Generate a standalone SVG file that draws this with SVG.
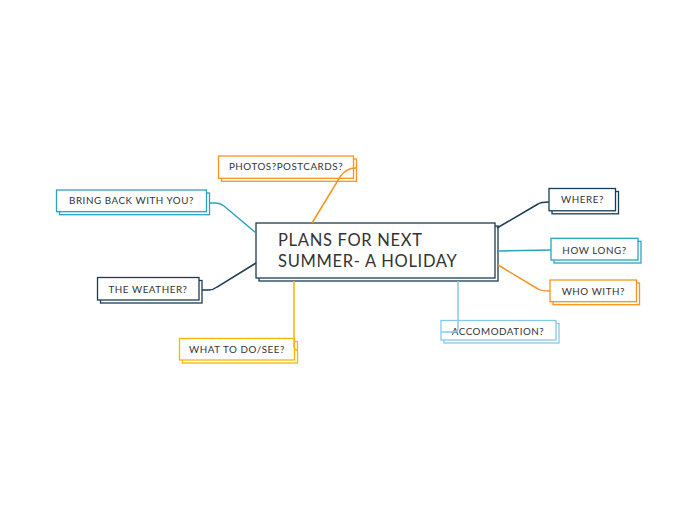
<svg xmlns="http://www.w3.org/2000/svg" width="697" height="520" viewBox="0 0 697 520">
<style>
.bg{fill:#fff}
.box{fill:#fff;stroke-width:1.3}
.sh{fill:#fff;stroke-width:1.3}
.t{font-family:"Lato","Noto Sans",sans-serif;font-size:9.8px;fill:#333;text-anchor:middle;letter-spacing:0.55px}
.tc{font-family:"Lato","Noto Sans",sans-serif;font-size:16.5px;fill:#333;letter-spacing:0.7px}
.c{fill:none;stroke-width:1.5}
.navy{stroke:#1b3d52}
.teal{stroke:#2ba3bd}
.orange{stroke:#f7941d}
.yellow{stroke:#f7b500}
.lblue{stroke:#86c9e6}
</style>
<rect class="bg" x="0" y="0" width="697" height="520"/>
<g id="central">
<rect class="sh navy" x="259" y="226" width="239" height="55"/>
<rect class="box navy" x="256" y="223" width="239" height="55"/>
<text class="tc" x="278" y="245.5">PLANS FOR NEXT</text>
<text class="tc" x="278" y="267">SUMMER- A HOLIDAY</text>
</g>
<g id="photos">
<rect class="sh orange" x="221.5" y="159" width="135" height="22.3"/>
<rect class="box orange" x="218.5" y="156" width="135" height="22.3"/>
<text class="t" x="286" y="170.3">PHOTOS?POSTCARDS?</text>
</g>
<g id="bring">
<rect class="sh teal" x="59.5" y="193" width="150" height="21.7"/>
<rect class="box teal" x="56.5" y="190" width="150" height="21.7"/>
<text class="t" x="131.5" y="204.3">BRING BACK WITH YOU?</text>
</g>
<g id="weather">
<rect class="sh navy" x="100.5" y="280.5" width="101.5" height="22.5"/>
<rect class="box navy" x="97.5" y="277.5" width="101.5" height="22.5"/>
<text class="t" x="148" y="292.7">THE WEATHER?</text>
</g>
<g id="whattodo">
<rect class="sh yellow" x="182.5" y="341.5" width="115" height="21.5"/>
<rect class="box yellow" x="179.5" y="338.5" width="115" height="21.5"/>
<text class="t" x="237" y="352.7">WHAT TO DO/SEE?</text>
</g>
<g id="accomodation">
<rect class="sh lblue" x="444" y="323.5" width="115" height="19.5"/>
<rect class="box lblue" x="441" y="320.5" width="115" height="19.5"/>
<text class="t" x="498" y="334.8">ACCOMODATION?</text>
</g>
<g id="where">
<rect class="sh navy" x="552" y="191.5" width="66.5" height="22.3"/>
<rect class="box navy" x="549" y="188.5" width="66.5" height="22.3"/>
<text class="t" x="582.5" y="202.7">WHERE?</text>
</g>
<g id="howlong">
<rect class="sh teal" x="554" y="241.3" width="87" height="21.7"/>
<rect class="box teal" x="551" y="238.3" width="87" height="21.7"/>
<text class="t" x="594.5" y="254">HOW LONG?</text>
</g>
<g id="whowith">
<rect class="sh orange" x="553" y="283" width="86.5" height="21.7"/>
<rect class="box orange" x="550" y="280" width="86.5" height="21.7"/>
<text class="t" x="593.3" y="295">WHO WITH?</text>
</g>
<g id="connectors">
<path class="c orange" d="M312,223 L340,177 Q346,168 356,168"/>
<path class="c teal" d="M209,203 L216,203 Q220,203 224,206 L256,233"/>
<path class="c navy" d="M202,290 L209,290 Q213,290 217,287 L256,263"/>
<path class="c yellow" d="M294,281 L294,346 Q294,350 297,350"/>
<path class="c lblue" d="M458,281 L458,328 Q458,332 454,332 L441,332"/>
<path class="c navy" d="M497,228 L538,204 Q541,202 549,202"/>
<path class="c teal" d="M498,251 L551,250"/>
<path class="c orange" d="M498,265 L538,289 Q541,291 550,291"/>
</g>
</svg>
